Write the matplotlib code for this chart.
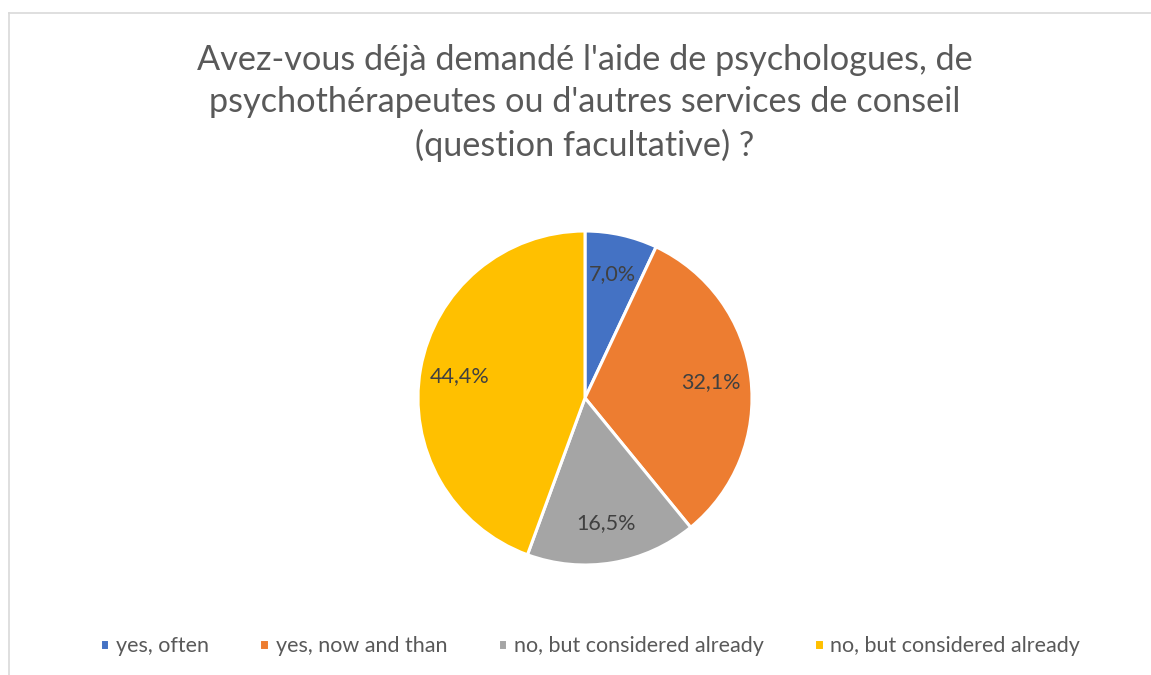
import matplotlib.pyplot as plt
from matplotlib.lines import Line2D

# data
labels = ["yes, often", "yes, now and than", "no, but considered already", "no, but considered already"]
values = [7.0, 32.1, 16.5, 44.4]
colors = ["#4472C4", "#ED7D31", "#A5A5A5", "#FFC000"]
title = "Avez-vous déjà demandé l'aide de psychologues, de\npsychothérapeutes ou d'autres services de conseil\n(question facultative) ?"

plt.rcParams['font.family'] = ['Lato', 'DejaVu Sans']

W, H = 1151, 675
fig = plt.figure(figsize=(W / 100, H / 100), dpi=100)

# chart border (only top and left visible in the crop)
fig.add_artist(Line2D([8.5 / W, 8.5 / W], [0, 1 - 12.5 / H], color="#d9d9d9", lw=1.2))
fig.add_artist(Line2D([8.5 / W, 1], [1 - 12.5 / H, 1 - 12.5 / H], color="#d9d9d9", lw=1.2))

# pie axes: center (585, 398) px, radius 167 px
r = 167
cx, cy = 585, H - 398
ax = fig.add_axes([(cx - r) / W, (cy - r) / H, 2 * r / W, 2 * r / H])
wedges, texts, autotexts = ax.pie(values, colors=colors, startangle=90, counterclock=False,
                                  autopct=lambda p: f"{p:.1f}%".replace(".", ","),
                                  pctdistance=0.76, radius=1,
                                  wedgeprops=dict(edgecolor="white", linewidth=2.2),
                                  textprops=dict(color="#404040", fontsize=15.5))
ax.set_xlim(-1, 1)
ax.set_ylim(-1, 1)
ax.axis("off")

fig.text(cx / W, 1 - 103 / H, title, ha="center", va="center", fontsize=24.7,
         color="#595959", linespacing=1.38)

leg = fig.legend(wedges, labels, loc="center", bbox_to_anchor=(590 / W, 1 - 646 / H),
                 ncol=4, frameon=False, fontsize=15.5, handlelength=0.45, handleheight=0.45,
                 handletextpad=0.3, columnspacing=2.35, labelcolor="#595959")

fig.savefig("out.png", dpi=100)
